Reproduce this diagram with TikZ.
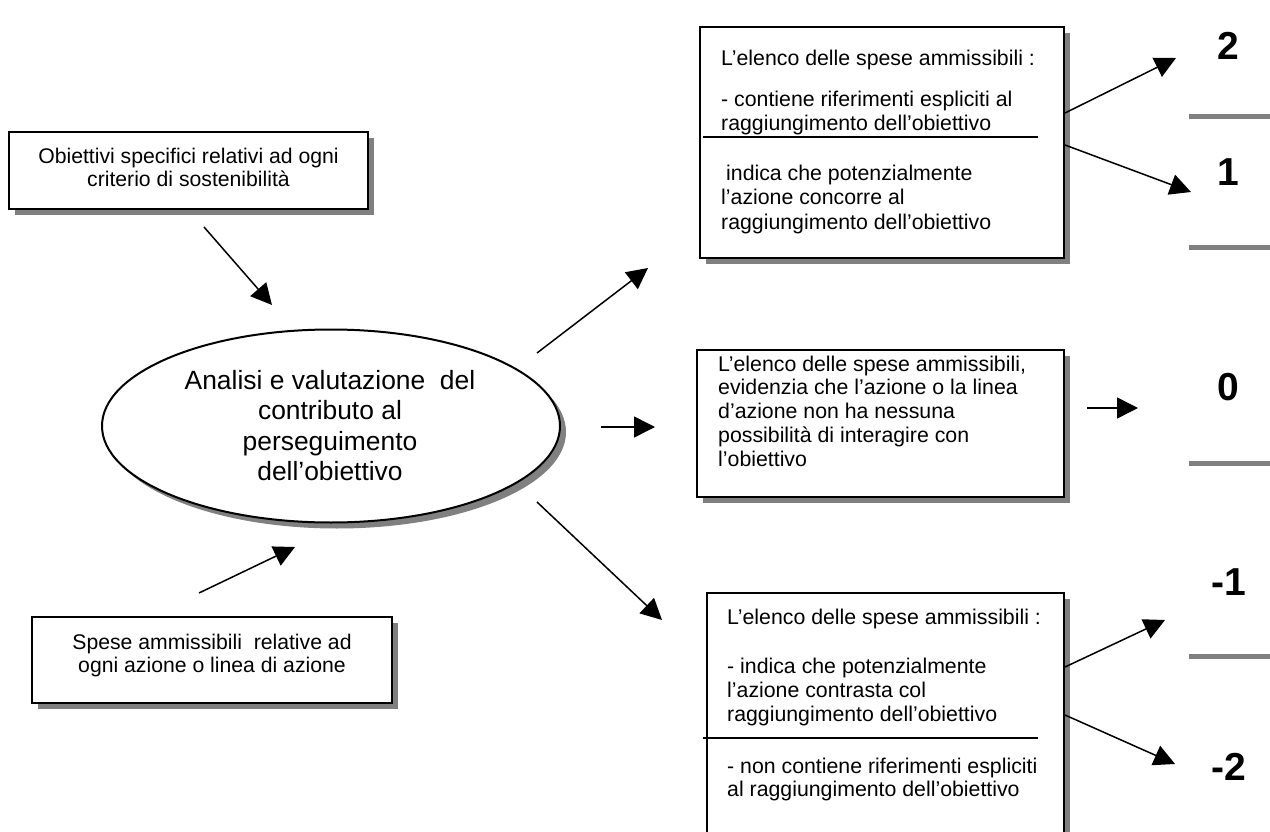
\documentclass[tikz,border=0pt]{standalone}
\usepackage{fontspec}
\setmainfont{Liberation Sans}
\usetikzlibrary{shapes.geometric,shadows,arrows.meta}
\definecolor{shadowgray}{RGB}{128,128,128}
\begin{document}
\begin{tikzpicture}[x=1pt,y=-1pt,
  box/.style={draw=black, line width=2pt, fill=white, inner sep=0pt,
    drop shadow={shadow xshift=6pt,shadow yshift=-6pt,fill=shadowgray,opacity=1}},
  txt/.style={font=\fontsize{21.3}{24.5}\selectfont, align=left, anchor=north west, inner sep=0pt},
  ctxt/.style={font=\fontsize{21.2}{23}\selectfont, align=center, anchor=north, inner sep=0pt},
  etxt/.style={font=\fontsize{26.4}{30.5}\selectfont, align=center, anchor=north, inner sep=0pt},
  num/.style={font=\fontsize{39}{42}\selectfont\bfseries, inner sep=0pt},
  arr/.style={line width=1.5pt, -{Triangle[length=21pt,width=21pt]}},
  sepline/.style={draw=shadowgray, line width=5pt},
  divline/.style={draw=black, line width=1.5pt}
]
\clip (0,0) rectangle (1270,832);
\fill[white] (0,0) rectangle (1270,832);

% left boxes
\node[box, minimum width=359pt, minimum height=77pt] (objbox) at (188.5,170.5) {};
\node[ctxt] (objtxt) at (188.5,147.5) {Obiettivi specifici relativi ad ogni\\criterio di sostenibilità};

\node[box, minimum width=360pt, minimum height=86pt] (spbox) at (212,660) {};
\node[ctxt] (sptxt) at (212,634) {Spese ammissibili\ \ relative ad\\ogni azione o linea di azione};

% ellipse
\node[box, ellipse, minimum width=458pt, minimum height=193pt,
  drop shadow={shadow xshift=5pt,shadow yshift=-5pt,fill=shadowgray,opacity=1}] (ell) at (331,426) {};
\node[etxt] (elltxt) at (330,370) {Analisi e valutazione\ \ del\\contributo al\\perseguimento\\dell’obiettivo};

% top right box
\node[box, minimum width=364pt, minimum height=231pt] (topbox) at (882,142.5) {};
\node[txt] (toptxtA) at (721,49.5) {L’elenco delle spese ammissibili :};
\node[txt] (toptxtB) at (721,90.5) {- contiene riferimenti espliciti al\\raggiungimento dell’obiettivo};
\draw[divline] (703,137) -- (1038,137);
\node[txt] (toptxtC) at (721,164.5) {\hspace{5pt}indica che potenzialmente\\l’azione concorre al\\raggiungimento dell’obiettivo};

% middle box
\node[box, minimum width=367pt, minimum height=147pt] (midbox) at (880.5,423.5) {};
\node[txt, font=\fontsize{21.3}{23.8}\selectfont] (midtxt) at (718,355.5) {L’elenco delle spese ammissibili,\\evidenzia che l’azione o la linea\\d’azione non ha nessuna\\possibilità di interagire con\\l’obiettivo};

% bottom box
\node[box, minimum width=357pt, minimum height=257pt] (botbox) at (885.5,721.5) {};
\node[txt] (bottxtA) at (727,608.5) {L’elenco delle spese ammissibili :};
\node[txt, font=\fontsize{21.3}{24}\selectfont] (bottxtB) at (727,657.5) {- indica che potenzialmente\\l’azione contrasta col\\raggiungimento dell’obiettivo};
\draw[divline] (703,738) -- (1038,738);
\node[txt, font=\fontsize{21.3}{23.5}\selectfont] (bottxtC) at (727,757.5) {- non contiene riferimenti espliciti\\al raggiungimento dell’obiettivo};

% scores
\node[num] (n2) at (1228,46) {2};
\node[num] (n1) at (1228,172) {1};
\node[num] (n0) at (1228,387) {0};
\node[num] (nm1) at (1229,582) {-1};
\node[num] (nm2) at (1229,767) {-2};
\draw[sepline] (1189,117) -- (1270,117);
\draw[sepline] (1189,247) -- (1270,247);
\draw[sepline] (1189,463) -- (1270,463);
\draw[sepline] (1189,656) -- (1270,656);

% arrow end points
\coordinate (a1s) at (204,227); \coordinate (a1e) at (272,305);
\coordinate (a2s) at (199,593); \coordinate (a2e) at (295,547);
\coordinate (a3s) at (537,353); \coordinate (a3e) at (648,268);
\coordinate (a4s) at (601,427); \coordinate (a4e) at (655,427);
\coordinate (a5s) at (537,502); \coordinate (a5e) at (662,620);
\coordinate (a6s) at (1065,113); \coordinate (a6e) at (1176,58);
\coordinate (a7s) at (1065,145); \coordinate (a7e) at (1191,192);
\coordinate (a8s) at (1087,408); \coordinate (a8e) at (1138,408);
\coordinate (a9s) at (1065,667); \coordinate (a9e) at (1165,620);
\coordinate (a10s) at (1065,715); \coordinate (a10e) at (1175,764);

\draw[arr] (a1s) -- (a1e);
\draw[arr] (a2s) -- (a2e);
\draw[arr] (a3s) -- (a3e);
\draw[arr] (a4s) -- (a4e);
\draw[arr] (a5s) -- (a5e);
\draw[arr] (a6s) -- (a6e);
\draw[arr] (a7s) -- (a7e);
\draw[arr] (a8s) -- (a8e);
\draw[arr] (a9s) -- (a9e);
\draw[arr] (a10s) -- (a10e);
\end{tikzpicture}
\end{document}
